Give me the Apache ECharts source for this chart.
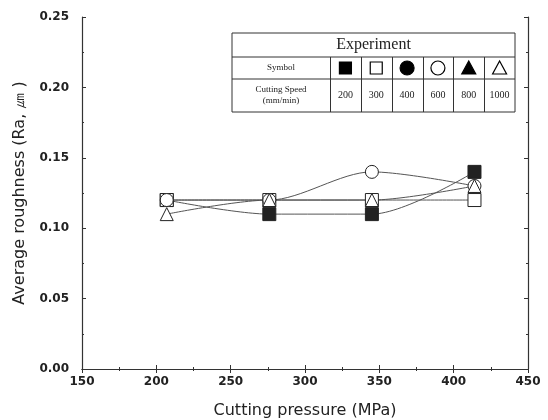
<!DOCTYPE html>
<html>
<head>
<meta charset="utf-8">
<script src="https://cdn.jsdelivr.net/npm/echarts@6/dist/echarts.min.js"></script>
<style>
html, body { margin: 0; padding: 0; background: #fff; }
#chart { width: 548px; height: 420px; }
</style>
</head>
<body>
<div id="chart"></div>
<script>
'use strict';

// cutting pressure (MPa)
var pressure = [207, 276, 345, 414];

// average roughness per cutting speed
var speed200 = [0.12, 0.11, 0.11, 0.14];
var speed300 = [0.12, 0.12, 0.12, 0.12];
var speed600 = [0.12, 0.12, 0.14, 0.13];
var speed1000 = [0.11, 0.12, 0.12, 0.13];

// legend table
var speedLabels = ['200', '300', '400', '600', '800', '1000'];
var symbolKinds = ['fsq', 'osq', 'fci', 'oci', 'ftr', 'otr'];

var ink = '#222';

function pairs(ys) {
    return pressure.map(function(x, i) { return [x, ys[i]]; });
}

function makeSeries(name, ys, symbol, filled) {
    return {
        name: name,
        type: 'line',
        smooth: 0.3,
        data: pairs(ys),
        symbol: symbol,
        symbolSize: 13,
        lineStyle: { color: '#555', width: 1 },
        itemStyle: { color: filled ? ink : '#fff', borderColor: ink, borderWidth: 1 }
    };
}

// table for the legend
function buildTable() {
    var left = 232, top = 33, right = 515, bottom = 112;
    var row1 = 57, row2 = 79, firstCol = 330;
    var colW = (right - firstCol) / 6;
    var els = [];
    var line = function(x1, y1, x2, y2) {
        els.push({ type: 'line', shape: { x1: x1, y1: y1, x2: x2, y2: y2 }, style: { stroke: '#333', lineWidth: 1 } });
    };
    els.push({ type: 'rect', shape: { x: left, y: top, width: right - left, height: bottom - top }, style: { fill: '#fff', stroke: '#333', lineWidth: 1 } });
    line(left, row1, right, row1);
    line(left, row2, right, row2);
    for (var i = 0; i < 6; i++) {
        var x = firstCol + i * colW;
        line(Math.round(x) + 0.5, row1, Math.round(x) + 0.5, bottom);
    }
    els.push({ type: 'text', x: (left + right) / 2, y: (top + row1) / 2, style: { text: 'Experiment', font: '16px "Liberation Serif"', fill: '#222', align: 'center', verticalAlign: 'middle' } });
    els.push({ type: 'text', x: (left + firstCol) / 2, y: (row1 + row2) / 2, style: { text: 'Symbol', font: '9px "Liberation Serif"', fill: '#222', align: 'center', verticalAlign: 'middle' } });
    els.push({ type: 'text', x: (left + firstCol) / 2, y: (row2 + bottom) / 2, style: { text: 'Cutting Speed\n(mm/min)', font: '9px "Liberation Serif"', lineHeight: 11, fill: '#222', align: 'center', verticalAlign: 'middle' } });
    speedLabels.forEach(function(lbl, i) {
        var cx = firstCol + (i + 0.5) * colW;
        var cy = (row1 + row2) / 2;
        els.push({ type: 'text', x: cx, y: (row2 + bottom) / 2, style: { text: lbl, font: '10px "Liberation Serif"', fill: '#222', align: 'center', verticalAlign: 'middle' } });
        var kind = symbolKinds[i];
        var fill = kind.charAt(0) === 'f' ? '#000' : '#fff';
        var st = { fill: fill, stroke: '#000', lineWidth: 1.2 };
        if (kind.slice(1) === 'sq') {
            els.push({ type: 'rect', shape: { x: cx - 6, y: cy - 6, width: 12, height: 12 }, style: st });
        } else if (kind.slice(1) === 'ci') {
            els.push({ type: 'circle', shape: { cx: cx, cy: cy, r: 7 }, style: st });
        } else {
            els.push({ type: 'polygon', shape: { points: [[cx, cy - 7], [cx + 7, cy + 6], [cx - 7, cy + 6]] }, style: st });
        }
    });
    return els;
}

var axisLine = { show: true, lineStyle: { color: '#333', width: 1.2 } };
var tickLabel = { color: '#222', fontSize: 12, fontWeight: 'bold', fontFamily: 'DejaVu Sans' };
var nameStyle = { fontSize: 16, color: '#222', fontFamily: 'DejaVu Sans' };

var option = {
    backgroundColor: '#fff',
    animation: false,
    grid: { left: 82, right: 20, top: 17, bottom: 51, outerBoundsMode: 'none', containLabel: false },
    xAxis: [{
        type: 'value', min: 150, max: 450, interval: 50,
        name: 'Cutting pressure (MPa)', nameLocation: 'middle', nameGap: 34,
        nameTextStyle: nameStyle,
        axisLine: axisLine,
        axisTick: { inside: true, length: 4, lineStyle: { color: '#333' } },
        minorTick: { show: true, splitNumber: 2, length: 2, lineStyle: { color: '#333' } },
        axisLabel: Object.assign({ margin: 7 }, tickLabel),
        splitLine: { show: false }
    }, {
        type: 'value', min: 150, max: 450, interval: 50, position: 'top',
        axisLine: axisLine,
        axisTick: { inside: true, length: 4, lineStyle: { color: '#333' } },
        minorTick: { show: true, splitNumber: 2, length: 2, lineStyle: { color: '#333' } },
        axisLabel: { show: false },
        splitLine: { show: false }
    }],
    yAxis: [{
        type: 'value', min: 0, max: 0.25, interval: 0.05,
        name: 'Average roughness (Ra, \u339B )', nameLocation: 'middle', nameGap: 54,
        nameTextStyle: nameStyle,
        axisLine: axisLine,
        axisTick: { inside: true, length: 4, lineStyle: { color: '#333' } },
        minorTick: { show: true, splitNumber: 2, length: 2, lineStyle: { color: '#333' } },
        axisLabel: Object.assign({ margin: 13, formatter: function(v) { return v.toFixed(2); } }, tickLabel),
        splitLine: { show: false }
    }, {
        type: 'value', min: 0, max: 0.25, interval: 0.05, position: 'right',
        axisLine: axisLine,
        axisTick: { inside: true, length: 4, lineStyle: { color: '#333' } },
        minorTick: { show: true, splitNumber: 2, length: 2, lineStyle: { color: '#333' } },
        axisLabel: { show: false },
        splitLine: { show: false }
    }],
    series: [
        makeSeries('200', speed200, 'rect', true),
        makeSeries('300', speed300, 'rect', false),
        makeSeries('600', speed600, 'circle', false),
        makeSeries('1000', speed1000, 'triangle', false)
    ],
    graphic: buildTable()
};

var chart = echarts.init(document.getElementById('chart'));
chart.setOption(option);
</script>
</body>
</html>
